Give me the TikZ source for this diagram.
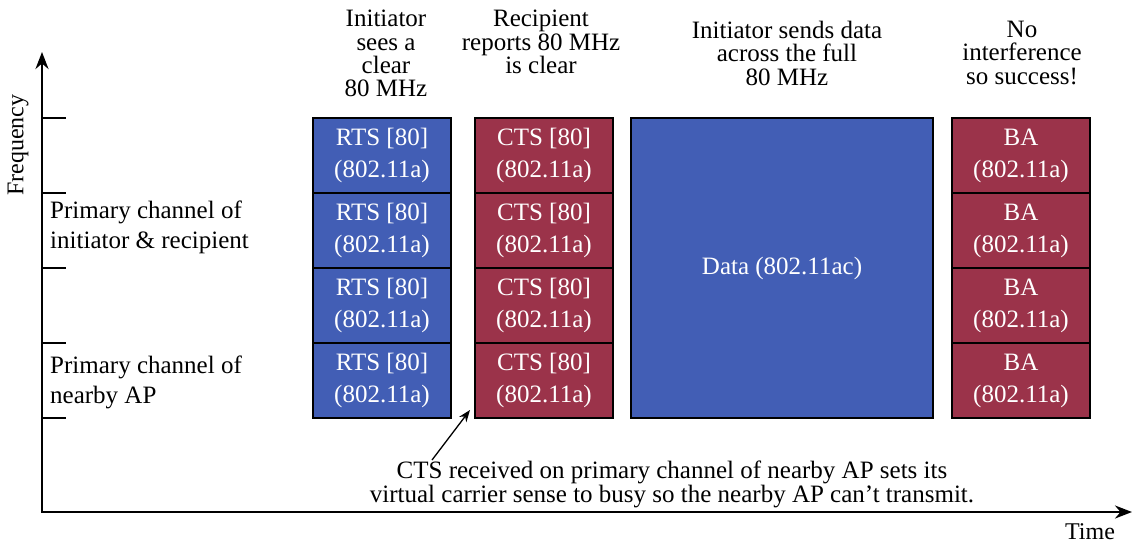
\documentclass[tikz,border=0pt]{standalone}
\usepackage{fontspec}
\setmainfont{Liberation Serif}
\usepackage{xcolor}
\usetikzlibrary{arrows.meta,positioning}
\definecolor{rtsblue}{RGB}{66,94,181}
\definecolor{ctsred}{RGB}{155,51,74}

\begin{document}
\begin{tikzpicture}[x=1pt, y=-1pt,
  every node/.style={font=\fontsize{24}{26}\selectfont},
  slot/.style={draw=black, line width=1.4pt, minimum width=138pt, minimum height=75pt,
    inner sep=0pt, text=white, align=center, font=\fontsize{25}{32}\selectfont},
  toplabel/.style={anchor=north, align=center, inner sep=0pt, font=\fontsize{25}{23.3}\selectfont},
  chanlabel/.style={anchor=north west, align=left, inner sep=0pt, font=\fontsize{25}{30}\selectfont}]
  \useasboundingbox (0,0) rectangle (1134,544);
  % axes
  \draw[line width=2.6pt, {Stealth[length=17pt,width=13pt]}-{Stealth[length=17pt,width=13pt]}]
    (42,52) -- (42,512) -- (1132,512);
  \foreach \y in {118,193,268,343,418} {
    \draw[line width=2.6pt] (42,\y) -- (66,\y);
  }
  \node[rotate=90] (freq) at (18,145) {Frequency};
  \node (time) at (1090,532) {Time};
  % channel labels
  \node[chanlabel] (primary) at (50,201) {Primary channel of\\initiator \& recipient};
  \node[chanlabel] (nearby) at (50,356) {Primary channel of\\nearby AP};
  % frames
  \foreach \i in {1,...,4} {
    \node[slot, fill=rtsblue] (rts\i) at (382,{80.5+75*\i}) {RTS [80]\\(802.11a)};
    \node[slot, fill=ctsred] (cts\i) at (544,{80.5+75*\i}) {CTS [80]\\(802.11a)};
    \node[slot, fill=ctsred] (ba\i) at (1021,{80.5+75*\i}) {BA\\(802.11a)};
  }
  \node[slot, fill=rtsblue, minimum width=302pt, minimum height=300pt] (data) at (782,268) {Data (802.11ac)};
  % step labels
  \node[toplabel] (lbl1) at (386,10) {Initiator\\sees a\\clear\\ 80 MHz};
  \node[toplabel] (lbl2) at (541,10) {Recipient\\reports 80 MHz\\is clear};
  \node[toplabel] (lbl3) at (787,21) {Initiator sends data\\across the full\\ 80 MHz};
  \node[toplabel] (lbl4) at (1022,21) {No\\interference\\so success!};
  % note
  \node[align=center, font=\fontsize{25}{24}\selectfont] (note) at (672,484)
    {CTS received on primary channel of nearby AP sets its\\virtual carrier sense to busy so the nearby AP can’t transmit.};
  \coordinate (notetip) at (432,460);
  \coordinate (ctstip) at (470,410);
  \draw[line width=1.3pt, -{Stealth[length=12pt,width=9pt]}] (notetip) -- (ctstip);
\end{tikzpicture}
\end{document}
